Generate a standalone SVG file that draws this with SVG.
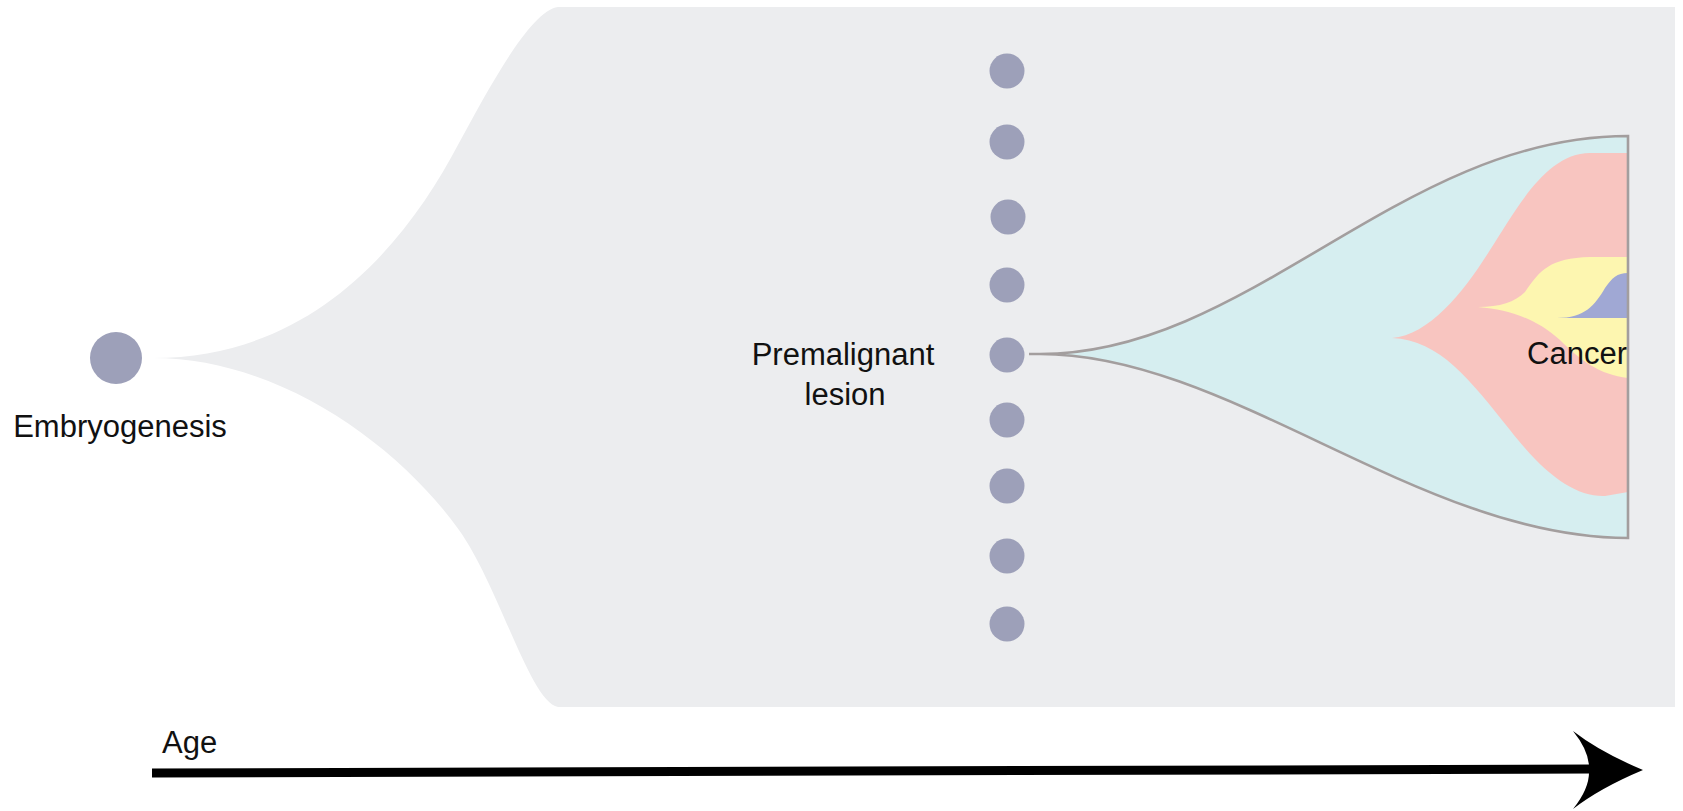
<svg xmlns="http://www.w3.org/2000/svg" width="1683" height="811" viewBox="0 0 1683 811">
<style>
  .lbl { font-family: "Liberation Sans", Arial, sans-serif; font-size: 31px; fill: #111; }
  .dot { fill: #9da0b9; }
  .edge { fill: none; stroke: #a39e9e; stroke-width: 2.6; }
</style>
<rect width="1683" height="811" fill="#ffffff"/>
<g id="background">
  <path d="M558,7 L1675,7 L1675,707 L558,707 C530,702 499,586 459,530 C399,446 280,358 153,358 C310,358 404,248 459,143 C486.5,93 530,10 558,7 Z" fill="#ecedef"/>
</g>
<g id="embryogenesis">
  <circle cx="116" cy="358" r="26" class="dot"/>
  <text x="120" y="437" class="lbl" text-anchor="middle">Embryogenesis</text>
</g>
<g id="lesions">
  <circle cx="1007" cy="71" r="17.5" class="dot"/>
  <circle cx="1007" cy="142" r="17.5" class="dot"/>
  <circle cx="1008" cy="217" r="17.5" class="dot"/>
  <circle cx="1007" cy="285" r="17.5" class="dot"/>
  <circle cx="1007" cy="355" r="17.5" class="dot"/>
  <circle cx="1007" cy="420" r="17.5" class="dot"/>
  <circle cx="1007" cy="486" r="17.5" class="dot"/>
  <circle cx="1007" cy="556" r="17.5" class="dot"/>
  <circle cx="1007" cy="624" r="17.5" class="dot"/>
  <text x="843" y="365" class="lbl" text-anchor="middle">Premalignant</text>
  <text x="845" y="405" class="lbl" text-anchor="middle">lesion</text>
</g>
<g id="cancer">
  <path d="M1040,354 C1250,354 1400,136 1628,136 L1628,538 C1420,538 1230,354 1040,354 Z" fill="#d6eef0"/>
  <path d="M1392,338 C1430,335 1465,290 1490,250 C1515,212 1545,153 1590,153 L1628,153 L1628,492 L1605,496 C1575,497 1545,475 1510,430 C1470,380 1440,340 1392,338 Z" fill="#f8c5c0"/>
  <path d="M1478,307 C1500,307 1515,302 1525,292 C1540,270 1550,258 1590,257 L1628,257 L1628,378 C1600,375 1580,360 1560,340 C1535,318 1510,310 1478,307 Z" fill="#fdf6b0"/>
  <path d="M1557,318 C1585,318 1595,305 1605,288 C1612,278 1617,273 1628,273 L1628,318 Z" fill="#a0a8d4"/>
  <text x="1627" y="364" class="lbl" font-size="30" text-anchor="end">Cancer</text>
</g>
<g id="connectors">
  <path class="edge" d="M1029,354 L1040,354 C1250,354 1400,136 1628,136 L1628,538 C1420,538 1230,354 1040,354"/>
  <line x1="152" y1="773" x2="1592" y2="769" stroke="#000" stroke-width="9"/>
  <path d="M1643,770 Q1600,752 1573,731 Q1590,752 1589,770 Q1590,788 1573,809 Q1600,788 1643,770 Z" fill="#000"/>
</g>
<g id="axis-label">
  <text x="162" y="753" class="lbl">Age</text>
</g>
</svg>
